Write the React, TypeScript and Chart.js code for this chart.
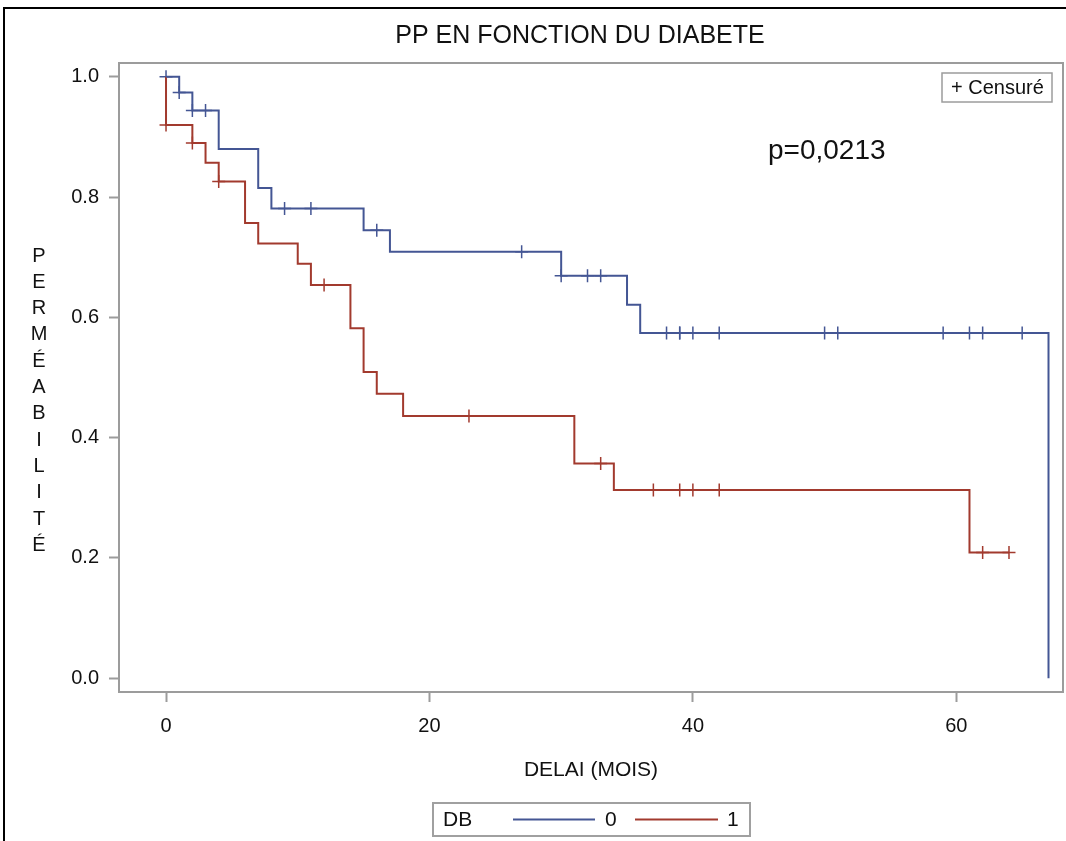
import React, { useEffect, useRef } from 'react';
import { Chart, registerables } from 'chart.js';

Chart.register(...registerables);

// ---- Text ----
const chartTitle = 'PP EN FONCTION DU DIABETE';
const xAxisTitle = 'DELAI (MOIS)';
const yAxisTitle = 'PERMÉABILITÉ';
const groupTitle = 'DB';
const groupLabels = ['0', '1'];
const censorLabel = '+ Censuré';
const pValueText = 'p=0,0213';

// ---- Axes ----
const xTicks = [0, 20, 40, 60];
const yTicks = [0, 0.2, 0.4, 0.6, 0.8, 1.0];
const xRange = [-3.57, 68.1];
const yRange = [-0.023, 1.023];

// ---- DB = 0 (Kaplan-Meier steps) ----
const db0Times = [0, 1, 2, 4, 7, 8, 15, 17, 30, 35, 36, 67];
const db0Surv = [1.0, 0.974, 0.944, 0.88, 0.815, 0.781, 0.745, 0.709, 0.669, 0.621, 0.574, 0.0];
const db0Censored = [0, 1, 2, 3, 9, 11, 16, 27, 30, 32, 33, 38, 39, 39, 40, 42, 50, 51, 59, 61, 62, 65];

// ---- DB = 1 ----
const db1Times = [0, 0, 2, 3, 4, 6, 7, 10, 11, 14, 15, 16, 18, 31, 34, 61, 64];
const db1Surv = [1.0, 0.92, 0.89, 0.857, 0.826, 0.757, 0.723, 0.689, 0.654, 0.582, 0.509, 0.473, 0.436, 0.357, 0.313, 0.209, 0.209];
const db1Censored = [0, 2, 4, 12, 23, 33, 37, 39, 40, 42, 62, 64];

const colors = ['#445694', '#A23A2E'];
const FONT = '"Liberation Sans", Arial, Helvetica, sans-serif';

function survivalAt(times: number[], surv: number[], t: number): number {
  let v = surv[0];
  for (let i = 0; i < times.length; i++) {
    if (times[i] <= t) v = surv[i];
  }
  return v;
}

const decorPlugin = {
  id: 'decor',
  afterDraw(chart: any) {
    const { ctx, chartArea: a } = chart;
    ctx.save();
    // plot frame
    ctx.strokeStyle = '#9c9c9c';
    ctx.lineWidth = 2;
    ctx.strokeRect(a.left, a.top, a.right - a.left, a.bottom - a.top);

    // outer black border (top + left)
    ctx.strokeStyle = '#000';
    ctx.lineWidth = 2;
    ctx.beginPath();
    ctx.moveTo(4, chart.height);
    ctx.lineTo(4, 8);
    ctx.lineTo(chart.width, 8);
    ctx.stroke();

    // chart title
    ctx.fillStyle = '#111';
    ctx.font = `25px ${FONT}`;
    ctx.textAlign = 'center';
    ctx.textBaseline = 'middle';
    ctx.fillText(chartTitle, 580, 36);

    // vertical stacked y-axis title
    ctx.font = `20px ${FONT}`;
    const letters = Array.from(yAxisTitle);
    const step = 26.3;
    const startY = a.top + 193;
    letters.forEach((ch, i) => ctx.fillText(ch, 39, startY + i * step));

    // censored legend box
    ctx.font = `20px ${FONT}`;
    const bx = a.right - 121, by = a.top + 10, bw = 110, bh = 29;
    ctx.strokeStyle = '#9c9c9c';
    ctx.lineWidth = 1.5;
    ctx.strokeRect(bx, by, bw, bh);
    ctx.textAlign = 'left';
    ctx.fillStyle = '#111';
    ctx.fillText(censorLabel, bx + 9, by + bh / 2 + 1);

    // p-value
    ctx.font = `28px ${FONT}`;
    ctx.fillText(pValueText, 768, 151);

    // bottom group legend
    const lx = 433, ly = 803, lw = 317, lh = 33;
    ctx.strokeStyle = '#a0a0a0';
    ctx.lineWidth = 2;
    ctx.strokeRect(lx, ly, lw, lh);
    ctx.font = `21px ${FONT}`;
    ctx.fillStyle = '#111';
    const cy = ly + lh / 2 + 1;
    ctx.fillText(groupTitle, lx + 10, cy);
    const items = [
      { x0: 513, x1: 595, tx: 605 },
      { x0: 635, x1: 718, tx: 727 },
    ];
    items.forEach((it, i) => {
      ctx.strokeStyle = colors[i];
      ctx.lineWidth = 2;
      ctx.beginPath();
      ctx.moveTo(it.x0, cy - 1);
      ctx.lineTo(it.x1, cy - 1);
      ctx.stroke();
      ctx.fillStyle = '#111';
      ctx.fillText(groupLabels[i], it.tx, cy);
    });
    ctx.restore();
  },
};

export default function App() {
  const ref = useRef<HTMLCanvasElement | null>(null);

  useEffect(() => {
    document.body.style.margin = '0';
    document.body.style.overflow = 'hidden';
    const canvas = ref.current;
    if (!canvas) return;

    const line0 = db0Times.map((t, i) => ({ x: t, y: db0Surv[i] }));
    const line1 = db1Times.map((t, i) => ({ x: t, y: db1Surv[i] }));
    const cens0 = db0Censored.map((t) => ({ x: t, y: survivalAt(db0Times, db0Surv, t) }));
    const cens1 = db1Censored.map((t) => ({ x: t, y: survivalAt(db1Times, db1Surv, t) }));

    const chart = new Chart(canvas, {
      type: 'scatter',
      data: {
        datasets: [
          {
            label: groupLabels[0],
            data: line0,
            showLine: true,
            stepped: 'before',
            borderColor: colors[0],
            backgroundColor: colors[0],
            borderWidth: 2,
            pointRadius: 0,
          },
          {
            label: groupLabels[1],
            data: line1,
            showLine: true,
            stepped: 'before',
            borderColor: colors[1],
            backgroundColor: colors[1],
            borderWidth: 2,
            pointRadius: 0,
          },
          {
            label: 'c0',
            data: cens0,
            showLine: false,
            pointStyle: 'cross',
            pointRadius: 6.5,
            borderColor: colors[0],
            borderWidth: 1.5,
          },
          {
            label: 'c1',
            data: cens1,
            showLine: false,
            pointStyle: 'cross',
            pointRadius: 6.5,
            borderColor: colors[1],
            borderWidth: 1.5,
          },
        ],
      },
      options: {
        responsive: false,
        animation: false,
        layout: { autoPadding: false, padding: { left: 0, right: 3, top: 63, bottom: 58.4 } },
        plugins: {
          legend: { display: false },
          tooltip: { enabled: false },
          title: { display: false },
        },
        scales: {
          x: {
            type: 'linear',
            min: xRange[0],
            max: xRange[1],
            afterBuildTicks: (s: any) => {
              s.ticks = xTicks.map((v) => ({ value: v }));
            },
            afterFit: (s: any) => {
              s.height = 90.6;
            },
            ticks: {
              color: '#111',
              font: { family: FONT, size: 20 },
              padding: 12,
              maxRotation: 0,
              callback: (v: any) => String(v),
            },
            grid: {
              display: true,
              drawOnChartArea: false,
              drawTicks: true,
              tickLength: 10,
              tickColor: '#9c9c9c',
              tickWidth: 2,
            },
            border: { display: false },
            title: {
              display: true,
              text: xAxisTitle,
              color: '#111',
              font: { family: FONT, size: 21 },
              padding: { top: 0, bottom: 0 },
            },
          },
          y: {
            type: 'linear',
            min: yRange[0],
            max: yRange[1],
            afterBuildTicks: (s: any) => {
              s.ticks = yTicks.map((v) => ({ value: v }));
            },
            afterFit: (s: any) => {
              s.width = 119;
            },
            ticks: {
              color: '#111',
              font: { family: FONT, size: 20 },
              padding: 10,
              callback: (v: any) => Number(v).toFixed(1),
            },
            grid: {
              display: true,
              drawOnChartArea: false,
              drawTicks: true,
              tickLength: 10,
              tickColor: '#9c9c9c',
              tickWidth: 2,
            },
            border: { display: false },
            title: { display: false },
          },
        },
      },
      plugins: [decorPlugin],
    } as any);

    return () => chart.destroy();
  }, []);

  return (
    <div style={{ width: 1066, height: 841, position: 'relative', background: '#fff' }}>
      <canvas ref={ref} width={1066} height={841} style={{ display: 'block', width: 1066, height: 841 }} />
    </div>
  );
}
